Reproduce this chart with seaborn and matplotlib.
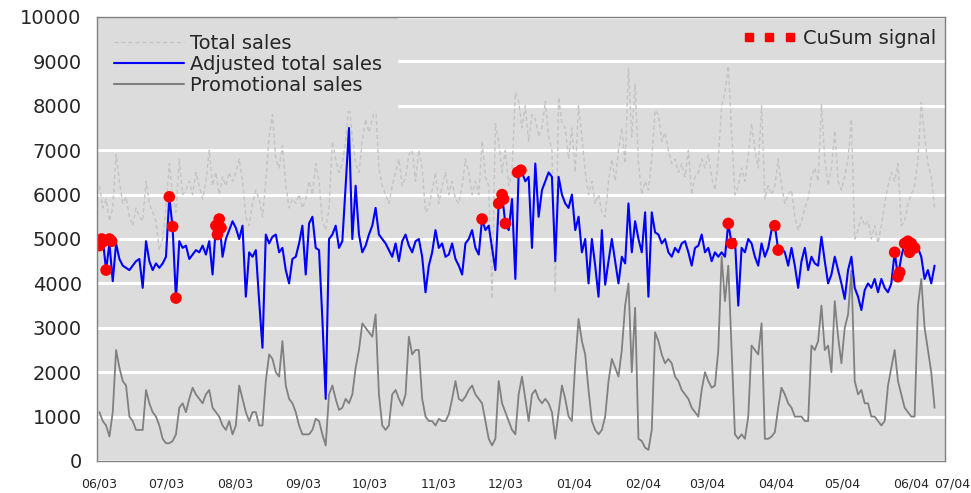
import numpy as np
import pandas as pd
import matplotlib
matplotlib.use("Agg")
import matplotlib.pyplot as plt
import matplotlib.dates as mdates
from matplotlib.lines import Line2D
import seaborn as sns

# ---------------- data (1.5-day steps from 2003-06-01) ----------------
adjusted_jun_aug = [4850, 5000, 4300, 4900, 4050, 4900, 4550, 4400, 4350, 4300, 4400, 4500, 4550, 3900, 4950,
                    4500, 4300, 4450, 4350, 4450, 4600, 5950, 5250, 3650, 4950, 4800, 4850, 4550, 4650, 4750,
                    4700, 4850, 4650, 4950, 4200, 5300, 5450, 4600, 5000, 5200, 5400, 5250, 5000, 5300, 3700,
                    4700, 4600, 4750, 3600, 2550]
adjusted_aug_nov = [5100, 4900, 5050, 5100, 4700, 4800, 4300, 4000, 4550, 4600, 4900, 5300, 4200, 5350, 5500,
                    4800, 4750, 3200, 1400, 5000, 5100, 5300, 4800, 4950, 6200, 7500, 5000, 6200, 5100, 4700,
                    4850, 5100, 5300, 5700, 5100, 5000, 4900, 4750, 4600, 4900, 4500, 4950, 5100, 4850, 4700,
                    4950, 5000, 4600, 3800, 4400, 4700]
adjusted_nov_jan = [5200, 4800, 4900, 4600, 4650, 4900, 4550, 4400, 4200, 4900, 5000, 5200, 4800, 4650, 5450,
                    5200, 5300, 4800, 4300, 5800, 6000, 5350, 5200, 5900, 4100, 6500, 6500, 6300, 6400, 4800,
                    6700, 5500, 6100, 6300, 6500, 6400, 4500, 6400, 6000, 5800, 5700, 6000, 5200, 5500, 4700,
                    5000, 4000, 5000, 4400, 3700, 5200]
adjusted_feb_apr = [3970, 4500, 5000, 4500, 4000, 4600, 4450, 5800, 4700, 5400, 5000, 4700, 5600, 3700, 5600,
                    5150, 5100, 4900, 5000, 4700, 4600, 4800, 4700, 4900, 4950, 4700, 4400, 4800, 4850, 5100,
                    4700, 4800, 4500, 4700, 4600, 4700, 4600, 5350, 4900, 5000, 3500, 4800, 4700, 5000, 4900,
                    4600, 4400, 4900, 4600, 4800, 5200]
adjusted_apr_jun = [5300, 4750, 4800, 4700, 4400, 4800, 4400, 3900, 4500, 4800, 4300, 4600, 4450, 4400, 5050,
                    4500, 4000, 4200, 4600, 4300, 4000, 3650, 4300, 4600, 3900, 3700, 3400, 3850, 4000, 3900,
                    4100, 3800, 4100, 3900, 3800, 4000, 4700, 4150, 4600, 4900, 4700, 4900, 4700, 4800, 4600,
                    4100, 4300, 4000, 4400]

total_jun_aug = [6200, 5700, 5900, 5400, 5700, 6900, 6300, 5800, 5950, 5500, 5300, 5700, 5500, 5400, 6300,
                 5800, 5600, 5400, 4750, 5000, 5700, 6700, 6000, 5600, 6800, 6000, 6100, 6300, 6000, 6500,
                 6200, 5900, 6300, 7000, 6200, 6500, 6000, 6400, 6200, 6500, 6300, 6500, 6800, 6300, 5500,
                 5300, 5800, 6100, 5900, 5500]
total_aug_nov = [6300, 7300, 7800, 6800, 6600, 7100, 6200, 5700, 5900, 5800, 6000, 5700, 5900, 6300, 6000,
                 6700, 6300, 5400, 5200, 5700, 7200, 6800, 6500, 6700, 7200, 8100, 7300, 6700, 6500, 7200,
                 7700, 7400, 7700, 8000, 6600, 6200, 6000, 5800, 6200, 6500, 6800, 6200, 6400, 6900, 7000,
                 6300, 7000, 6600, 5600, 5700, 6100]
total_nov_jan = [6500, 5800, 6200, 6500, 6000, 6300, 5900, 5800, 6200, 6800, 6500, 6000, 6300, 6000, 7200,
                 6400, 6200, 3650, 7600, 7200, 6500, 7000, 6200, 6500, 8300, 8100, 7500, 8000, 7200, 7800,
                 7700, 7300, 7500, 8100, 7300, 7000, 3800, 8200, 7600, 7500, 6800, 7500, 6500, 8000, 7300,
                 6500, 6000, 6300, 5800, 6000, 5600]
total_feb_apr = [5500, 6300, 6800, 6300, 7000, 7500, 6700, 8850, 7300, 8480, 6700, 6000, 6300, 6100, 6800,
                 7900, 7800, 7200, 7400, 7000, 6700, 6800, 6500, 6700, 6400, 7000, 6000, 6400, 6500, 6800,
                 6600, 6900, 6400, 6100, 6800, 8000, 8300, 8900, 7400, 6000, 6200, 6600, 6300, 6900, 7600,
                 7000, 6600, 8000, 5900, 6200, 6000]
total_apr_jun = [6200, 6800, 6200, 5800, 6000, 6100, 5500, 5200, 5400, 5700, 5900, 6400, 6600, 6300, 8040,
                 6800, 6200, 6600, 7440, 6300, 6100, 6400, 6800, 7700, 5000, 5200, 5500, 5300, 5400, 5000,
                 5300, 4900, 5300, 5800, 6200, 6500, 6300, 6700, 5300, 5400, 5800, 6000, 6200, 6800, 8080,
                 7300, 6700, 6400, 5700]

promo_jun_aug = [1100, 900, 800, 550, 1100, 2500, 2100, 1800, 1700, 1000, 900, 700, 700, 700, 1600,
                 1300, 1100, 1000, 800, 500, 400, 400, 450, 600, 1200, 1300, 1100, 1400, 1650, 1500,
                 1400, 1300, 1500, 1600, 1200, 1100, 1000, 800, 700, 900, 600, 800, 1700, 1400, 1100,
                 900, 1100, 1100, 800, 800]
promo_aug_nov = [1800, 2400, 2300, 2000, 1900, 2700, 1700, 1400, 1300, 1100, 800, 600, 600, 600, 700,
                 950, 900, 600, 350, 1500, 1700, 1400, 1150, 1200, 1400, 1300, 1500, 2100, 2500, 3100,
                 3000, 2900, 2800, 3300, 1500, 800, 700, 800, 1500, 1600, 1400, 1250, 1500, 2800, 2400,
                 2500, 2500, 1400, 1000, 900, 900]
promo_nov_jan = [800, 950, 900, 900, 1050, 1400, 1800, 1400, 1350, 1450, 1600, 1700, 1500, 1400, 1300,
                 900, 500, 350, 500, 1800, 1300, 1100, 900, 700, 600, 1500, 1900, 1400, 900, 1500,
                 1600, 1400, 1300, 1400, 1300, 1100, 500, 1100, 1700, 1400, 1000, 900, 2200, 3200, 2700,
                 2400, 1600, 900, 700, 600, 700]
promo_feb_apr = [1000, 1800, 2300, 2100, 1900, 2500, 3500, 4000, 2000, 3450, 500, 450, 300, 250, 700,
                 2900, 2700, 2400, 2200, 2300, 2200, 1900, 1800, 1600, 1500, 1400, 1200, 1100, 1000, 1600,
                 2000, 1800, 1650, 1700, 2500, 4600, 3600, 4400, 2500, 600, 500, 600, 500, 1000, 2600,
                 2500, 2400, 3100, 500, 500, 550]
promo_apr_jun = [650, 1200, 1650, 1500, 1300, 1200, 1000, 1000, 1000, 900, 900, 2600, 2500, 2700, 3500,
                 2500, 2600, 2000, 3600, 2800, 2200, 3000, 3300, 4290, 1800, 1500, 1600, 1300, 1300, 1000,
                 1000, 900, 800, 900, 1700, 2100, 2500, 1800, 1500, 1200, 1100, 1000, 1000, 3500, 4100,
                 3000, 2500, 2000, 1200]

# CuSum signals: days after 2003-06-01 and value
signal_days = [0, 1, 2, 3, 4.5, 5.5, 31.5, 33, 34.5, 52.5, 53.2, 54, 54.8,
               172.5, 180, 181.5, 182.2, 183, 188.5, 190,
               283.5, 285, 304.5, 306, 358.5, 360, 360.8, 363, 364.5, 365.2, 366, 367.5]
signal_values = [4850, 5000, 4950, 4300, 5000, 4950, 5950, 5280, 3670, 5300, 5100, 5450, 5250,
                 5450, 5800, 6000, 5900, 5350, 6500, 6550,
                 5350, 4900, 5300, 4750, 4700, 4150, 4250, 4900, 4950, 4700, 4900, 4800]

start = pd.Timestamp("2003-06-01")
step_days = 1.5


def as_frame(*segments):
    vals = np.concatenate([np.asarray(s, dtype=float) for s in segments])
    dates = start + pd.to_timedelta(np.arange(len(vals)) * step_days, unit="D")
    return pd.DataFrame({"date": dates, "value": vals})


total = as_frame(total_jun_aug, total_aug_nov, total_nov_jan, total_feb_apr, total_apr_jun)
adjusted = as_frame(adjusted_jun_aug, adjusted_aug_nov, adjusted_nov_jan, adjusted_feb_apr, adjusted_apr_jun)
promo = as_frame(promo_jun_aug, promo_aug_nov, promo_nov_jan, promo_feb_apr, promo_apr_jun)
signals = pd.DataFrame({"date": start + pd.to_timedelta(signal_days, unit="D"), "value": signal_values})

# ---------------- style ----------------
BG = "#dcdcdc"
sns.set_style("white", {"axes.facecolor": BG, "axes.edgecolor": "#808080", "grid.color": "white"})
plt.rcParams["font.family"] = ["DejaVu Sans"]

fig = plt.figure(figsize=(9.71, 4.93), dpi=100)
ax = fig.add_axes([97 / 971, 1 - 461 / 493, (945 - 97) / 971, (461 - 17) / 493])
ax.set_facecolor(BG)

sns.lineplot(data=total, x="date", y="value", ax=ax, color="#c4c4c4", lw=1.0,
             linestyle=(0, (3, 2)), zorder=2, legend=False)
sns.lineplot(data=promo, x="date", y="value", ax=ax, color="#808080", lw=1.3, zorder=3, legend=False)
sns.lineplot(data=adjusted, x="date", y="value", ax=ax, color="#0000ff", lw=1.5, zorder=4, legend=False)
sns.scatterplot(data=signals, x="date", y="value", ax=ax, color="#ff0000", marker="o", s=70,
                edgecolor="none", zorder=5, legend=False)

ax.set_ylim(0, 10000)
ax.set_xlim(start - pd.Timedelta(days=1.1), start + pd.Timedelta(days=381.2))
ax.set_yticks(np.arange(0, 10001, 1000))
ax.set_yticklabels([str(v) for v in range(0, 10001, 1000)])
ax.yaxis.grid(True, color="white", lw=2.2, zorder=0)
ax.xaxis.grid(False)
ax.set_axisbelow(True)

ax.xaxis.set_major_locator(mdates.MonthLocator())
ax.xaxis.set_major_formatter(mdates.DateFormatter("%m/%y"))
ax.tick_params(axis="x", direction="out", length=5, width=1, color="#808080", labelsize=9, pad=7)
ax.tick_params(axis="y", length=0, labelsize=14, pad=11)
for sp in ax.spines.values():
    sp.set_color("#808080")
    sp.set_linewidth(1)
    sp.set_zorder(7)
ax.set_xlabel("")
ax.set_ylabel("")

# label of the next month, squeezed against the right edge of the picture
fig.canvas.draw()
label_y = ax.get_xticklabels()[0].get_window_extent().y1 / fig.bbox.height
fig.text(970 / 971, label_y, "07/04", ha="right", va="top", fontsize=9)

# ---------------- legends ----------------
h_total = Line2D([], [], color="#c4c4c4", lw=1.0, linestyle=(0, (3, 2)))
h_adj = Line2D([], [], color="#0000ff", lw=1.5)
h_promo = Line2D([], [], color="#808080", lw=1.5)
leg1 = ax.legend([h_total, h_adj, h_promo], ["Total sales", "Adjusted total sales", "Promotional sales"],
                 loc="upper left", bbox_to_anchor=(0.0015, 0.997), borderaxespad=0, borderpad=0.8,
                 fontsize=14, handlelength=3.6, handletextpad=0.3, labelspacing=0.1,
                 frameon=True, fancybox=False, facecolor=BG, edgecolor=BG, framealpha=1)
leg1.set_zorder(6)
ax.add_artist(leg1)

h_sig = Line2D([], [], color="#ff0000", marker="s", markersize=5.5, linestyle="none")
leg2 = ax.legend([h_sig], ["CuSum signal"], loc="upper right", bbox_to_anchor=(1.004, 1),
                 borderaxespad=0, borderpad=0.6, fontsize=14, numpoints=3, handlelength=2.7,
                 handletextpad=0.4, frameon=False)
leg2.set_zorder(6)

fig.savefig("out.png", dpi=100, facecolor="white")
